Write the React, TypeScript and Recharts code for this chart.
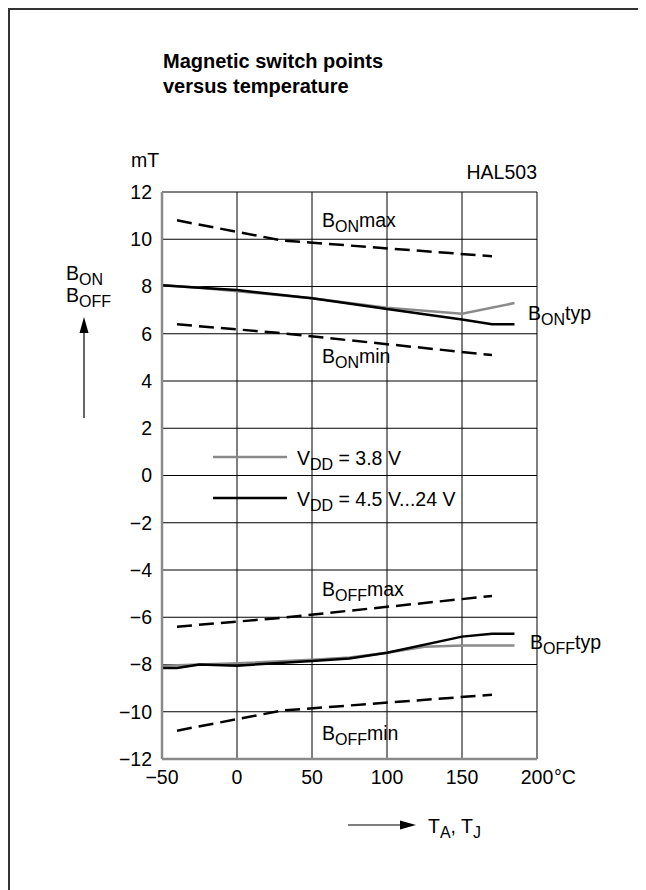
import React from 'react';
import { LineChart, Line, XAxis, YAxis, CartesianGrid, Legend } from 'recharts';

// HAL503 magnetic switch points vs. temperature
const tempTicks = [-50, 0, 50, 100, 150, 200]; // °C
const fieldTicks = [-12, -10, -8, -6, -4, -2, 0, 2, 4, 6, 8, 10, 12]; // mT

// limit curves [T, B]
const onMax = [[-40, 10.8], [30, 9.95], [170, 9.28]];
const onMin = [[-40, 6.4], [25, 6.05], [170, 5.1]];
const offMax = [[-40, -6.4], [25, -6.05], [170, -5.1]];
const offMin = [[-40, -10.8], [30, -9.95], [170, -9.28]];

// typical curves, VDD = 3.8 V (grey)
const onTyp38 = [[-50, 8.05], [-25, 7.95], [0, 7.8], [50, 7.5], [100, 7.1], [150, 6.85], [185, 7.3]];
const offTyp38 = [[-50, -8.05], [-25, -8.0], [0, -7.95], [50, -7.8], [75, -7.7], [100, -7.5], [125, -7.25], [150, -7.2], [185, -7.2]];

// typical curves, VDD = 4.5 V...24 V (black)
const onTyp = [[-50, 8.05], [-25, 7.95], [0, 7.85], [50, 7.5], [100, 7.05], [150, 6.6], [170, 6.4], [185, 6.4]];
const offTyp = [[-50, -8.15], [-40, -8.15], [-25, -8.0], [0, -8.05], [50, -7.85], [75, -7.75], [100, -7.5], [150, -6.82], [170, -6.7], [185, -6.7]];

const toRows = (pts: number[][]) => pts.map(([t, b]) => ({ t, b }));

const FONT = '"Liberation Sans", Arial, Helvetica, sans-serif';
const GREY = '#8a8a8a';
const DASH = '15 7';
const FS = 19.5; // main text size
const SUB = 16; // subscript size
const SUB_DY = 5;

const fmtNum = (v: number) => (v < 0 ? '\u2212' + Math.abs(v) : String(v));

function TempTick(props: any) {
  const { x, y, payload } = props;
  const v = payload.value;
  return (
    <g>
      <text x={x} y={y + 9} dy="0.71em" textAnchor="middle" fontSize={FS} fontFamily={FONT} fill="#000">
        {fmtNum(v)}
      </text>
      {v === 200 && (
        <text x={x + 17} y={y + 9} dy="0.71em" textAnchor="start" fontSize={FS} fontFamily={FONT} fill="#000">
          °C
        </text>
      )}
    </g>
  );
}

function SupplyLegend() {
  const rows = [
    { color: GREY, w: 2.5, main: '= 3.8 V' },
    { color: '#000', w: 2.5, main: '= 4.5 V...24 V' },
  ];
  return (
    <svg width={320} height={80} style={{ overflow: 'visible' }}>
      {rows.map((r, i) => (
        <g key={i} transform={`translate(0, ${17 + i * 41})`}>
          <line x1={0} x2={74} y1={0} y2={0} stroke={r.color} strokeWidth={r.w} />
          <text x={84} y={8} fontSize={FS} fontFamily={FONT} fill="#000">
            V<tspan fontSize={SUB} dy={SUB_DY}>DD</tspan>
            <tspan dy={-SUB_DY}> {r.main}</tspan>
          </text>
        </g>
      ))}
    </svg>
  );
}

// "B" with subscript plus trailing text
function BLabel({ x, y, sub, tail }: { x: number; y: number; sub: string; tail: string }) {
  return (
    <text x={x} y={y} fontSize={FS} fontFamily={FONT} fill="#000">
      B<tspan fontSize={SUB} dy={SUB_DY}>{sub}</tspan>
      <tspan dy={-SUB_DY}>{tail}</tspan>
    </text>
  );
}

export default function App() {
  return (
    <div style={{ position: 'relative', width: 638, height: 882, fontFamily: FONT }}>
      <div
        style={{
          position: 'absolute',
          left: 0,
          top: 0,
          width: 638,
          height: 882,
          boxSizing: 'border-box',
          borderTop: '2px solid #333',
          borderLeft: '2px solid #333',
        }}
      />
      <div style={{ position: 'absolute', left: -8, top: -8, width: 646, height: 890 }}>
        <LineChart
          width={646}
          height={890}
          margin={{ top: 192, right: 109, bottom: 91, left: 102 }}
        >
          <CartesianGrid stroke="#000" strokeWidth={1} />
          <XAxis
            type="number"
            dataKey="t"
            domain={[-50, 200]}
            ticks={tempTicks}
            interval={0}
            height={40}
            tickSize={0}
            tick={<TempTick />}
            axisLine={{ stroke: GREY, strokeWidth: 2.5 }}
            allowDataOverflow
          />
          <YAxis
            type="number"
            dataKey="b"
            domain={[-12, 12]}
            ticks={fieldTicks}
            interval={0}
            width={60}
            tickSize={0}
            tickMargin={10}
            tickFormatter={fmtNum}
            tick={{ fontSize: FS, fontFamily: FONT, fill: '#000' }}
            axisLine={{ stroke: GREY, strokeWidth: 2.5 }}
            allowDataOverflow
          />
          <Legend
            layout="vertical"
            align="center"
            verticalAlign="middle"
            content={() => <SupplyLegend />}
            wrapperStyle={{ left: 213, top: 440, width: 320, height: 80 }}
          />

          <Line data={toRows(onMax)} dataKey="b" stroke="#000" strokeWidth={2.5} strokeDasharray={DASH} dot={false} activeDot={false} isAnimationActive={false} legendType="none" />
          <Line data={toRows(onMin)} dataKey="b" stroke="#000" strokeWidth={2.5} strokeDasharray={DASH} dot={false} activeDot={false} isAnimationActive={false} legendType="none" />
          <Line data={toRows(offMax)} dataKey="b" stroke="#000" strokeWidth={2.5} strokeDasharray={DASH} dot={false} activeDot={false} isAnimationActive={false} legendType="none" />
          <Line data={toRows(offMin)} dataKey="b" stroke="#000" strokeWidth={2.5} strokeDasharray={DASH} dot={false} activeDot={false} isAnimationActive={false} legendType="none" />

          <Line data={toRows(onTyp38)} dataKey="b" stroke={GREY} strokeWidth={2.5} dot={false} activeDot={false} isAnimationActive={false} />
          <Line data={toRows(offTyp38)} dataKey="b" stroke={GREY} strokeWidth={2.5} dot={false} activeDot={false} isAnimationActive={false} />
          <Line data={toRows(onTyp)} dataKey="b" stroke="#000" strokeWidth={2.5} dot={false} activeDot={false} isAnimationActive={false} />
          <Line data={toRows(offTyp)} dataKey="b" stroke="#000" strokeWidth={2.5} dot={false} activeDot={false} isAnimationActive={false} />
        </LineChart>

        <svg width={646} height={890} style={{ position: 'absolute', left: 0, top: 0, pointerEvents: 'none' }}>
          <text x={163} y={68} fontSize={20} fontWeight="bold" fontFamily={FONT} fill="#000">
            Magnetic switch points
          </text>
          <text x={163} y={93} fontSize={20} fontWeight="bold" fontFamily={FONT} fill="#000">
            versus temperature
          </text>
          <text x={131} y={167} fontSize={FS} fontFamily={FONT} fill="#000">mT</text>
          <text x={537} y={179} textAnchor="end" fontSize={FS} fontFamily={FONT} fill="#000">HAL503</text>

          <BLabel x={322} y={227} sub="ON" tail="max" />
          <BLabel x={528} y={320} sub="ON" tail="typ" />
          <BLabel x={322} y={363} sub="ON" tail="min" />
          <BLabel x={322} y={596} sub="OFF" tail="max" />
          <BLabel x={530} y={649} sub="OFF" tail="typ" />
          <BLabel x={322} y={740} sub="OFF" tail="min" />

          {/* y-axis quantity */}
          <BLabel x={66} y={280} sub="ON" tail="" />
          <BLabel x={66} y={302} sub="OFF" tail="" />
          <line x1={84} x2={84} y1={418} y2={330} stroke="#000" strokeWidth={1.2} />
          <polygon points="84,317 79.5,333 88.5,333" fill="#000" />

          {/* x-axis quantity */}
          <line x1={348} x2={403} y1={825} y2={825} stroke="#000" strokeWidth={1.2} />
          <polygon points="416,825 400,820.5 400,829.5" fill="#000" />
          <text x={428} y={833} fontSize={FS} fontFamily={FONT} fill="#000">
            T<tspan fontSize={SUB} dy={SUB_DY}>A</tspan>
            <tspan dy={-SUB_DY}>, T</tspan>
            <tspan fontSize={SUB} dy={SUB_DY}>J</tspan>
          </text>
        </svg>
      </div>
    </div>
  );
}
